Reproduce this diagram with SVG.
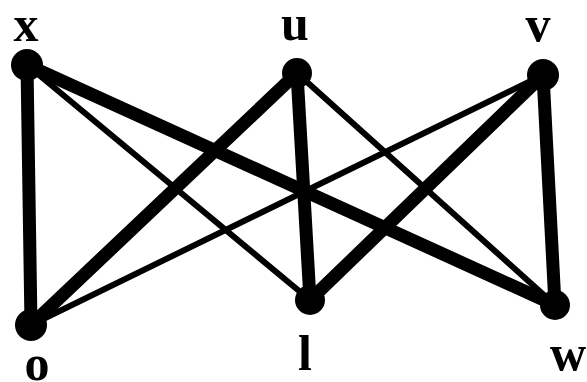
<svg xmlns="http://www.w3.org/2000/svg" width="587" height="382" viewBox="0 0 587 382">
<style>
.thick{stroke:#000;stroke-width:13;stroke-linecap:round;fill:none}
.thin{stroke:#000;stroke-width:6;stroke-linecap:round;fill:none}
.node circle{fill:#000}
.node text{font-family:"Liberation Serif",serif;font-weight:bold;font-size:50px;fill:#000;text-anchor:middle}
</style>
<rect width="587" height="382" fill="#fff"/>
<g id="edges">
<line class="thick" x1="27" y1="65" x2="31" y2="325"/>
<line class="thick" x1="27" y1="65" x2="555" y2="305"/>
<line class="thin" x1="27" y1="65" x2="310" y2="300"/>
<line class="thick" x1="297" y1="73" x2="31" y2="325"/>
<line class="thick" x1="297" y1="73" x2="310" y2="300"/>
<line class="thin" x1="297" y1="73" x2="555" y2="305"/>
<line class="thin" x1="543" y1="75" x2="31" y2="325"/>
<line class="thick" x1="543" y1="75" x2="310" y2="300"/>
<line class="thick" x1="543" y1="75" x2="555" y2="305"/>
</g>
<g id="x" class="node"><circle cx="27" cy="65" r="16"/><text x="26" y="41">x</text></g>
<g id="u" class="node"><circle cx="297" cy="73" r="15"/><text x="295" y="40">u</text></g>
<g id="v" class="node"><circle cx="543" cy="75" r="16"/><text x="538" y="41">v</text></g>
<g id="o" class="node"><circle cx="31" cy="325" r="16"/><text x="37" y="380">o</text></g>
<g id="l" class="node"><circle cx="310" cy="300" r="15"/><text x="305" y="370">l</text></g>
<g id="w" class="node"><circle cx="555" cy="305" r="15"/><text x="568" y="370">w</text></g>
</svg>
